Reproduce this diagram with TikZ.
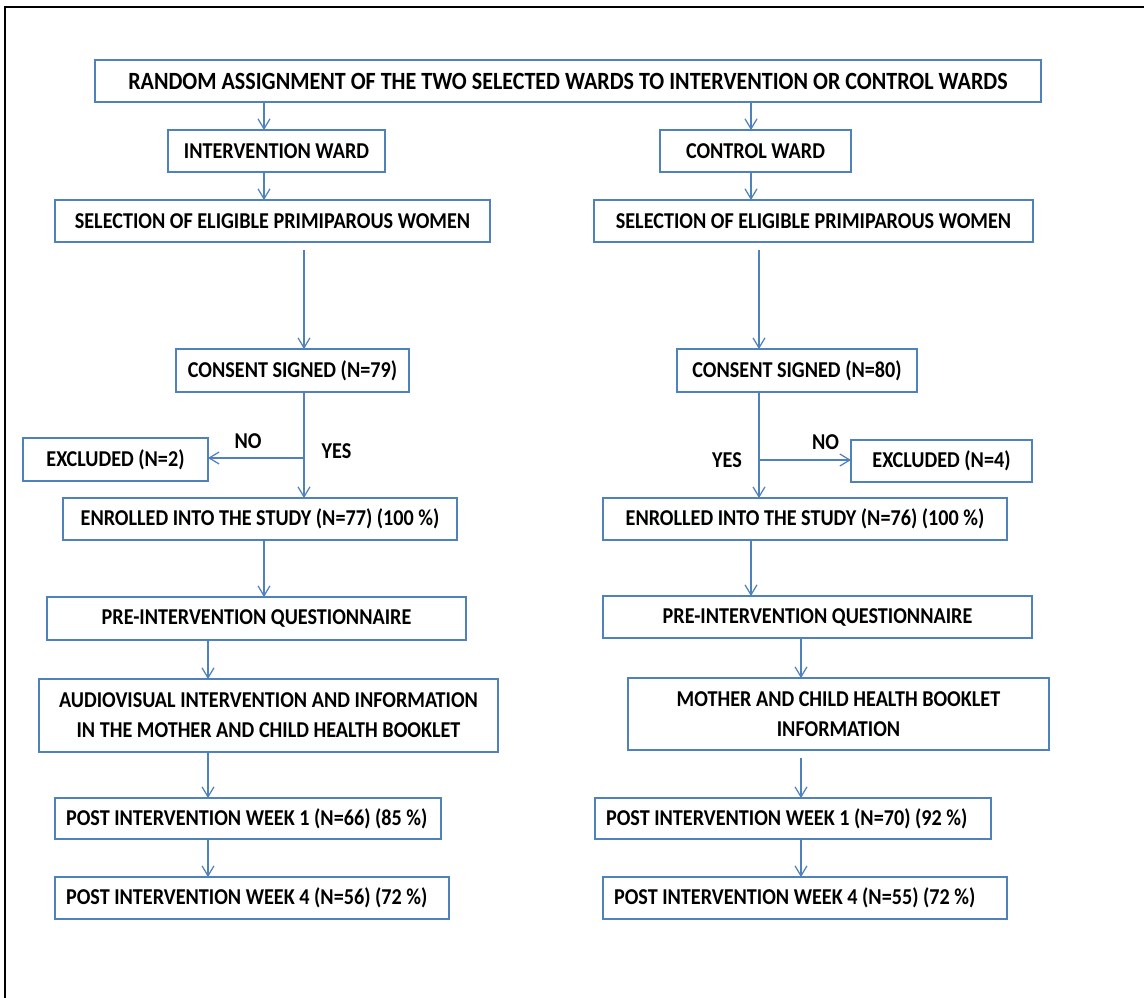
\documentclass[tikz,border=0pt]{standalone}
\usepackage{fontspec}
\setmainfont{Carlito}[FakeStretch=0.89]
\usetikzlibrary{arrows.meta}

\definecolor{boxblue}{RGB}{79,129,189}

\newcommand\lefttext[2]{\makebox[#1][l]{#2}}

\tikzset{
  box/.style={draw=boxblue, line width=0.7pt, rectangle, inner sep=0pt, outer sep=0pt,
    minimum height=0.84cm, align=center, font=\fontsize{12.9}{17}\selectfont\bfseries},
  postbox/.style={box, inner xsep=0.22cm},
  lbl/.style={font=\fontsize{12.9}{14}\selectfont\bfseries, inner sep=0pt},
  arr/.style={draw=boxblue, line width=0.7pt, -{Straight Barb[length=2mm, width=2.4mm]}}
}

\begin{document}
\begin{tikzpicture}[x=0.02cm, y=-0.02cm]
\useasboundingbox (0,0) rectangle (1144,998);

% Frame round the chart
\draw[line width=1.1pt] (5,998) -- (5,7) -- (1144,7);

% Top of the chart
\node[box, minimum width=18.92cm, font=\fontsize{14.1}{15}\selectfont\bfseries] (top) at (568,81) {RANDOM ASSIGNMENT OF THE TWO SELECTED WARDS TO INTERVENTION OR CONTROL WARDS};
\node[box, minimum width=4.34cm] (intw) at (276.5,151) {INTERVENTION WARD};
\node[box, minimum width=3.82cm] (ctlw) at (755.5,151) {CONTROL WARD};
\node[box, minimum width=8.70cm] (sel1) at (272.5,221) {SELECTION OF ELIGIBLE PRIMIPAROUS WOMEN};
\node[box, minimum width=8.78cm] (sel2) at (813.5,221) {SELECTION OF ELIGIBLE PRIMIPAROUS WOMEN};

% Consent and exclusions
\node[box, minimum width=4.66cm, minimum height=0.86cm] (cons1) at (292.5,370.5) {CONSENT SIGNED (N=79)};
\node[box, minimum width=4.80cm, minimum height=0.86cm] (cons2) at (797,370.5) {CONSENT SIGNED (N=80)};
\node[box, minimum width=3.70cm, minimum height=0.86cm] (excl1) at (115.5,459.5) {EXCLUDED (N=2)};
\node[box, minimum width=3.62cm] (excl2) at (941.5,461) {EXCLUDED (N=4)};
\node[box, minimum width=7.88cm] (enr1) at (260,519) {ENROLLED INTO THE STUDY (N=77) (100 \%)};
\node[box, minimum width=8.08cm] (enr2) at (805,519) {ENROLLED INTO THE STUDY (N=76) (100 \%)};

% Questionnaire and intervention
\node[box, minimum width=8.38cm, minimum height=0.86cm] (pre1) at (256.5,618.5) {PRE-INTERVENTION QUESTIONNAIRE};
\node[box, minimum width=8.58cm] (pre2) at (817.5,617) {PRE-INTERVENTION QUESTIONNAIRE};
\node[box, minimum width=9.18cm, minimum height=1.46cm] (aud1) at (268.5,715.5) {AUDIOVISUAL INTERVENTION AND INFORMATION\\IN THE MOTHER AND CHILD HEALTH BOOKLET};
\node[box, minimum width=8.42cm, minimum height=1.44cm] (mch2) at (838.5,714) {MOTHER AND CHILD HEALTH BOOKLET\\INFORMATION};

% Follow up
\node[postbox, minimum height=0.82cm] (post1a) at (248,818.5) {\lefttext{7.28cm}{POST INTERVENTION WEEK 1 (N=66) (85 \%)}};
\node[postbox] (post4a) at (252,898) {\lefttext{7.44cm}{POST INTERVENTION WEEK 4 (N=56) (72 \%)}};
\node[postbox, minimum height=0.82cm] (post1b) at (793,818.5) {\lefttext{7.48cm}{POST INTERVENTION WEEK 1 (N=70) (92 \%)}};
\node[postbox] (post4b) at (805,898) {\lefttext{7.64cm}{POST INTERVENTION WEEK 4 (N=55) (72 \%)}};

% Columns of the arrows
\coordinate (ca) at (264,0);
\coordinate (cb) at (751,0);
\coordinate (cc) at (304,0);
\coordinate (cd) at (759,0);
\coordinate (ce) at (208,0);
\coordinate (cf) at (801,0);
\coordinate (br1) at (304,458);
\coordinate (br2) at (759,460);

\draw[arr] (top.south -| ca) -- (intw.north -| ca);
\draw[arr] (top.south -| cb) -- (ctlw.north -| cb);
\draw[arr] (intw.south -| ca) -- (sel1.north -| ca);
\draw[arr] (ctlw.south -| cb) -- (sel2.north -| cb);
\draw[arr, shorten <=0.16cm] (sel1.south -| cc) -- (cons1.north -| cc);
\draw[arr, shorten <=0.16cm] (sel2.south -| cd) -- (cons2.north -| cd);
\draw[arr] (cons1.south -| cc) -- (enr1.north -| cc);
\draw[arr] (cons2.south -| cd) -- (enr2.north -| cd);
\draw[arr] (br1) -- (br1 -| excl1.east);
\draw[arr] (br2) -- (br2 -| excl2.west);
\draw[arr] (enr1.south -| ca) -- (pre1.north -| ca);
\draw[arr] (enr2.south -| cb) -- (pre2.north -| cb);
\draw[arr] (pre1.south -| ce) -- (aud1.north -| ce);
\draw[arr] (pre2.south -| cf) -- (mch2.north -| cf);
\draw[arr] (aud1.south -| ce) -- (post1a.north -| ce);
\draw[arr, shorten <=0.16cm] (mch2.south -| cf) -- (post1b.north -| cf);
\draw[arr] (post1a.south -| ce) -- (post4a.north -| ce);
\draw[arr] (post1b.south -| cf) -- (post4b.north -| cf);

% Yes / no labels
\node[lbl] (no1) at (248,441) {NO};
\node[lbl] (yes1) at (336.5,451) {YES};
\node[lbl] (yes2) at (727,460) {YES};
\node[lbl] (no2) at (825.5,442.5) {NO};
\end{tikzpicture}
\end{document}
